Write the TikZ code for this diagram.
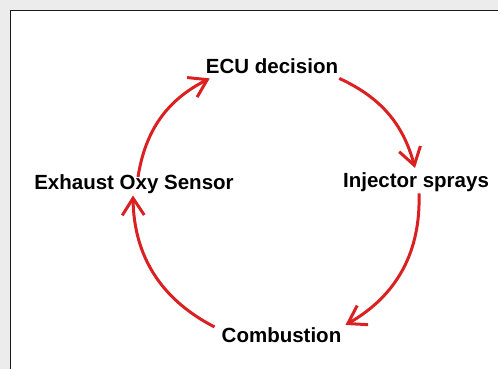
\documentclass[tikz,border=0pt]{standalone}
\usepackage{fontspec}
\setmainfont{Liberation Sans}
\usetikzlibrary{arrows.meta}
\definecolor{arrred}{RGB}{218,32,32}
\definecolor{outgray}{RGB}{236,236,236}
\tikzset{
  lbl/.style={anchor=base, inner sep=0pt, font=\fontsize{20.5}{24}\selectfont\bfseries, text=black},
  arr/.style={draw=arrred, line width=3pt, -{Straight Barb[length=17pt,width=22pt]}}
}
\begin{document}
\begin{tikzpicture}[x=1pt,y=1pt]
\useasboundingbox (0,0) rectangle (498,369);
\fill[outgray] (0,0) rectangle (498,369);
\fill[white] (10.5,0) rectangle (498,358.5);
\draw[black!90, line width=1.8pt] (10.5,0) -- (10.5,358.5) -- (498,358.5);
\node[lbl] (ecu) at (272,295) {ECU decision};
\node[lbl] (ex) at (134,179) {Exhaust Oxy Sensor};
\node[lbl] (inj) at (416,181) {Injector sprays};
\node[lbl] (comb) at (281.5,26) {Combustion};
\draw[arr] ([shift={(4,-2)}]ex.north) to[bend left=27] ([shift={(4,-4)}]ecu.south west);
\draw[arr] ([shift={(1,-4)}]ecu.south east) to[bend left=25] ([shift={(-1,5)}]inj.north);
\draw[arr] ([shift={(3,-1)}]inj.south) to[bend left=31] ([shift={(4,3)}]comb.north east);
\draw[arr] ([shift={(-7,1)}]comb.north west) to[bend left=31] ([shift={(-1,-1)}]ex.south);
\end{tikzpicture}
\end{document}
